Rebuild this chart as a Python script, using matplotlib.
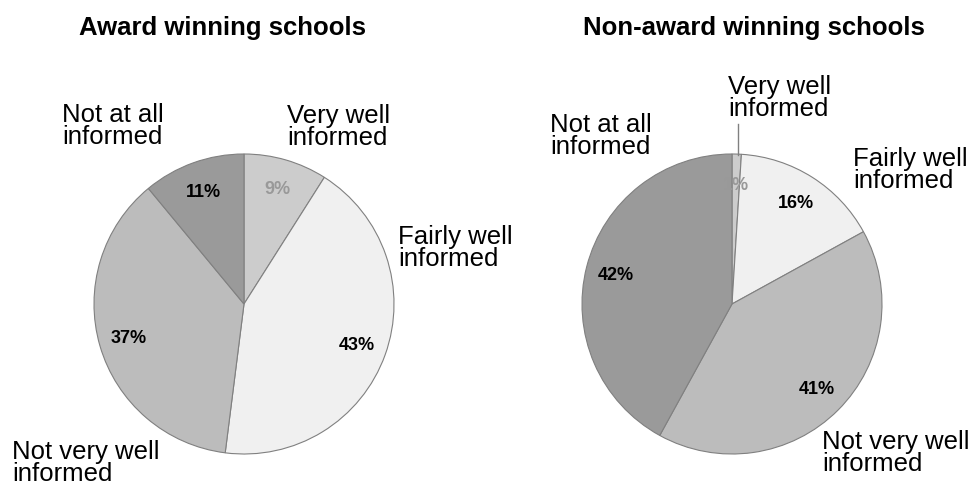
import matplotlib.pyplot as plt

plt.rcParams['font.family'] = ['Liberation Sans', 'DejaVu Sans']

categories = ["Very well\ninformed", "Fairly well\ninformed",
              "Not very well\ninformed", "Not at all\ninformed"]
award = [9, 43, 37, 11]
non_award = [1, 16, 41, 42]
titles = ["Award winning schools", "Non-award winning schools"]

colors = ["#cccccc", "#f0f0f0", "#bcbcbc", "#9a9a9a"]
pct_colors = ["#999999", "black", "black", "black"]

W, H = 970, 489
fig = plt.figure(figsize=(W / 100, H / 100), dpi=100)


def px(x, y):
    return x / W, 1 - y / H


# pie centre (pixels), title centre x, label anchors (left, cap top) in pixels
layouts = [
    dict(cx=244, cy=305, tx=223,
         labels=[(287, 109), (398, 230), (12, 445), (62, 108)]),
    dict(cx=732, cy=305, tx=754,
         labels=[(728, 80), (853, 152), (822, 435), (550, 118)]),
]
R = 150

for values, title, lay in zip([award, non_award], titles, layouts):
    x0, y1 = px(lay["cx"] - R, lay["cy"] + R)
    ax = fig.add_axes([x0, y1, 2 * R / W, 2 * R / H])
    wedges, _, autotexts = ax.pie(
        values, colors=colors, startangle=90, counterclock=False,
        autopct="%d%%", pctdistance=0.8,
        wedgeprops=dict(edgecolor="#808080", linewidth=0.8),
        textprops=dict(fontsize=13, fontweight="bold"))
    for t, c in zip(autotexts, pct_colors):
        t.set_color(c)
    ax.set_xlim(-1, 1)
    ax.set_ylim(-1, 1)
    ax.set_aspect("equal")
    ax.axis("off")

    fig.text(*px(lay["tx"], 35), title, ha="center", va="baseline",
             fontsize=18.5, fontweight="bold")
    for name, (lx, ly) in zip(categories, lay["labels"]):
        fig.text(*px(lx, ly - 5), name, ha="left", va="top", fontsize=18.5,
                 linespacing=0.92)

# leader line for the small slice on the right
fig.add_artist(plt.Line2D([738 / W, 738 / W], [1 - 125 / H, 1 - 156 / H],
                          color="#808080", linewidth=1))

fig.savefig("out.png", dpi=100)
